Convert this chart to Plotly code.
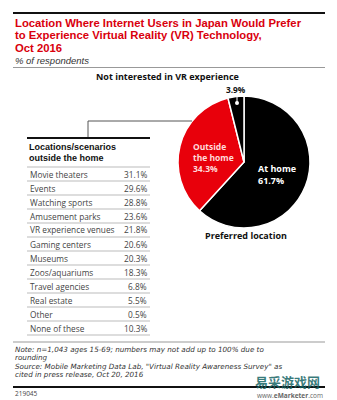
import plotly.graph_objects as go

W, H = 337, 400

# Preferred location (pie)
pie_labels = ["At home", "Outside the home", "Not interested in VR experience"]
pie_values = [61.7, 34.3, 3.9]
pie_colors = ["#000000", "#e8000b", "#000000"]

# Locations/scenarios outside the home (table)
locations = ["Movie theaters", "Events", "Watching sports", "Amusement parks",
             "VR experience venues", "Gaming centers", "Museums", "Zoos/aquariums",
             "Travel agencies", "Real estate", "Other", "None of these"]
shares = [31.1, 29.6, 28.8, 23.6, 21.8, 20.6, 20.3, 18.3, 6.8, 5.5, 0.5, 10.3]

title_lines = ["Location Where Internet Users in Japan Would Prefer",
               "to Experience Virtual Reality (VR) Technology,",
               "Oct 2016"]
subtitle = "% of respondents"
note_lines = ["Note: n=1,043 ages 15-69; numbers may not add up to 100% due to",
              "rounding",
              "Source: Mobile Marketing Data Lab, \"Virtual Reality Awareness Survey\" as",
              "cited in press release, Oct 20, 2016"]

FONT = "Open Sans"
TITLE_FONT = "Liberation Sans"
NOTE_FONT = "DejaVu Sans"
RED = "#d9000d"


def px(x):
    return x / W


def py(y):
    return 1 - y / H


fig = go.Figure()

# pie occupies a square box
cx, cy, r = 244, 162, 66
fig.add_trace(go.Pie(
    labels=pie_labels, values=pie_values, sort=False, direction="clockwise",
    rotation=0, marker=dict(colors=pie_colors, line=dict(color="white", width=1.5)),
    textinfo="none", hoverinfo="label+value", showlegend=False,
    domain=dict(x=[px(cx - r), px(cx + r)], y=[py(cy + r), py(cy - r)]),
))

ann = []
shapes = []


def text(x, y, s, size, color="#222", bold=False, italic=False, anchor="left",
         family=FONT, yanchor="middle"):
    if bold:
        s = f"<b>{s}</b>"
    if italic:
        s = f"<i>{s}</i>"
    ann.append(dict(x=px(x), y=py(y), xref="paper", yref="paper", text=s, showarrow=False,
                    xanchor=anchor, yanchor=yanchor,
                    align=anchor if anchor != "center" else "center",
                    font=dict(size=size, color=color, family=family)))


def line(x0, y0, x1, y1, color, width):
    shapes.append(dict(type="line", xref="paper", yref="paper",
                       x0=px(x0), y0=py(y0), x1=px(x1), y1=py(y1),
                       line=dict(color=color, width=width)))


# header rules and titles
line(13, 13, 325, 13, "#111", 2)
for i, t in enumerate(title_lines):
    text(13, 22.5 + 12.6 * i, t, 11.3, RED, bold=True, family=TITLE_FONT)
text(13, 60.5, subtitle, 9.5, "#333", italic=True, family=TITLE_FONT)
line(13, 67.5, 325, 67.5, "#999", 1)

# pie labels
text(167, 76.5, pie_labels[2], 9, "#111", bold=True, anchor="center")
text(236, 89.5, f"{pie_values[2]}%", 8.3, "#111", bold=True, anchor="center")
line(237, 94, 237, 103, "white", 1)
shapes.append(dict(type="circle", xref="paper", yref="paper",
                   x0=px(235), y0=py(105), x1=px(239), y1=py(101),
                   fillcolor="white", line=dict(color="white", width=0)))
ann.append(dict(x=px(191), y=py(157), xref="paper", yref="paper", showarrow=False,
                text=f"<b>Outside<br>the home<br>{pie_values[1]}%</b>", align="left",
                xanchor="left", yanchor="middle",
                font=dict(size=8.5, color="#ffdada", family=FONT)))
ann.append(dict(x=px(256), y=py(174), xref="paper", yref="paper", showarrow=False,
                text=f"<b>At home<br>{pie_values[0]}%</b>", align="left",
                xanchor="left", yanchor="middle",
                font=dict(size=9, color="white", family=FONT)))
text(246, 235, "Preferred location", 9, "#111", bold=True, anchor="center")

# connector from the red slice to the table
line(88, 121, 192, 121, "#555", 1)
line(88, 121, 88, 138, "#555", 1)

# table
tx0, tx1 = 27, 150
line(tx0, 138, tx1, 138, "#111", 2)
text(tx0, 147, "Locations/scenarios", 9, "#111", bold=True, family=TITLE_FONT)
text(tx0, 158, "outside the home", 9, "#111", bold=True, family=TITLE_FONT)
row_h = 14
top = 167
for i, (loc, val) in enumerate(zip(locations, shares)):
    y_line = top + i * row_h
    line(tx0, y_line, tx1, y_line, "#bbb", 1)
    yc = y_line + row_h / 2
    text(tx0 + 1, yc, loc, 8.3, "#444")
    text(tx1 - 1, yc, f"{val}%", 8.3, "#444", anchor="right")
line(tx0, top + len(locations) * row_h, tx1, top + len(locations) * row_h, "#bbb", 1)

# notes and footer
line(13, 342, 325, 342, "#999", 1)
for i, t in enumerate(note_lines):
    text(13, 349.5 + 8.4 * i, t, 7.2, "#333", italic=True, family=NOTE_FONT)
line(13, 387, 325, 387, "#111", 2)
text(13, 393, "219045", 6.5, "#444")
text(325, 395, "www.<b>eMarketer</b>.com", 6.5, "#666", anchor="right")
text(322, 381, "易采游戏网", 13, "rgba(20,100,100,0.85)", bold=True, anchor="right",
     family="Noto Sans CJK SC")

fig.update_layout(
    width=W, height=H, margin=dict(l=0, r=0, t=0, b=0),
    paper_bgcolor="white", plot_bgcolor="white",
    annotations=ann, shapes=shapes,
    xaxis=dict(visible=False), yaxis=dict(visible=False),
)

fig.write_html("out.html")
